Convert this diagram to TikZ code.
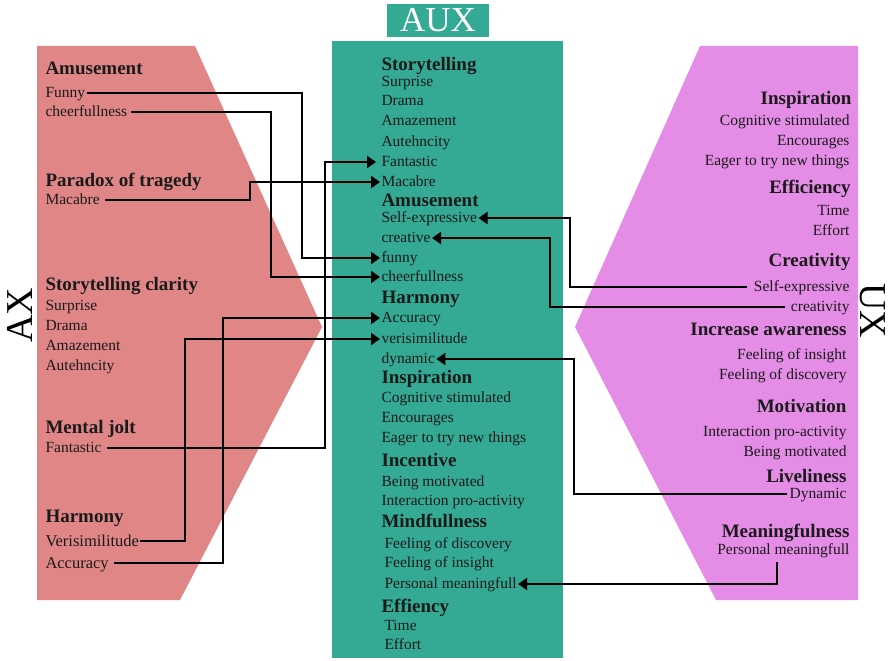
\documentclass[tikz,border=0pt]{standalone}
\usepackage{fontspec}
\setmainfont{Liberation Serif}
\usetikzlibrary{arrows.meta}
\definecolor{axpink}{HTML}{E08686}
\definecolor{auxteal}{HTML}{34A993}
\definecolor{uxviolet}{HTML}{E48CE6}
\definecolor{ink}{HTML}{1A1A1A}
\begin{document}
\begin{tikzpicture}[x=1pt,y=-1pt,
  txt/.style={inner sep=0pt, outer sep=1.5pt, text height=9.5pt, text depth=0pt, text=ink, font=\fontsize{15.5}{18}\selectfont},
  bigtxt/.style={txt, text height=10pt, font=\fontsize{16.5}{19}\selectfont},
  hdg/.style={inner sep=0pt, outer sep=1.5pt, text height=11.5pt, text depth=0pt, text=ink, font=\fontsize{19}{22}\selectfont\bfseries},
  lft/.style={anchor=west},
  rgt/.style={anchor=east},
  conn/.style={line width=2.2pt, draw=black},
  arr/.style={conn, -{Triangle[length=9pt,width=12pt]}},
  biglabel/.style={inner sep=0pt, text=black, font=\fontsize{38}{40}\selectfont}
]
\useasboundingbox (0,0) rectangle (892,661);

% panels
\fill[axpink] (37,46) -- (195,46) -- (322,327) -- (180,600) -- (37,600) -- cycle;
\fill[uxviolet] (858,46) -- (700,46) -- (575,327) -- (716,600) -- (858,600) -- cycle;
\fill[auxteal] (332,41) rectangle (563,658);
\node[fill=auxteal, text=white, minimum width=102pt, minimum height=33pt, inner sep=0pt,
      font=\fontsize{35}{37}\selectfont] (aux) at (438,20.5) {AUX};
\node[biglabel, rotate=90] (ax) at (20,315) {AX};
\node[biglabel, rotate=-90] (ux) at (873,311) {UX};

% left (AX)
\node[hdg,lft] (lAmuH) at (44,69) {Amusement};
\node[txt,lft] (lFunny) at (44,93) {Funny};
\node[txt,lft] (lCheer) at (44,112) {cheerfullness};
\node[hdg,lft] (lParH) at (44,181) {Paradox of tragedy};
\node[txt,lft] (lMac) at (44,200) {Macabre};
\node[hdg,lft] (lStoH) at (44,285) {Storytelling clarity};
\node[txt,lft] (lSur) at (44,306) {Surprise};
\node[txt,lft] (lDra) at (44,326) {Drama};
\node[txt,lft] (lAma) at (44,346) {Amazement};
\node[txt,lft] (lAut) at (44,366) {Autehncity};
\node[hdg,lft] (lMenH) at (44,428) {Mental jolt};
\node[txt,lft] (lFan) at (44,448) {Fantastic};
\node[hdg,lft] (lHarH) at (44,517) {Harmony};
\node[bigtxt,lft] (lVer) at (44,541) {Verisimilitude};
\node[bigtxt,lft] (lAcc) at (44,563) {Accuracy};

% middle (AUX)
\node[hdg,lft] (mStoH) at (380,65) {Storytelling};
\node[txt,lft] (mSur) at (380,82) {Surprise};
\node[txt,lft] (mDra) at (380,101) {Drama};
\node[txt,lft] (mAma) at (380,121) {Amazement};
\node[txt,lft] (mAut) at (380,142) {Autehncity};
\node[txt,lft] (mFan) at (380,162) {Fantastic};
\node[txt,lft] (mMac) at (380,182) {Macabre};
\node[hdg,lft] (mAmuH) at (380,201) {Amusement};
\node[txt,lft] (mSelf) at (380,218) {Self-expressive};
\node[txt,lft] (mCre) at (380,238) {creative};
\node[txt,lft] (mFunny) at (380,258) {funny};
\node[txt,lft] (mCheer) at (380,277) {cheerfullness};
\node[hdg,lft] (mHarH) at (380,298) {Harmony};
\node[txt,lft] (mAcc) at (380,318) {Accuracy};
\node[txt,lft] (mVer) at (380,339) {verisimilitude};
\node[txt,lft] (mDyn) at (380,359) {dynamic};
\node[hdg,lft] (mInsH) at (380,378) {Inspiration};
\node[txt,lft] (mCog) at (380,398) {Cognitive stimulated};
\node[txt,lft] (mEnc) at (380,418) {Encourages};
\node[txt,lft] (mEag) at (380,438) {Eager to try new things};
\node[hdg,lft] (mIncH) at (380,461) {Incentive};
\node[txt,lft] (mBei) at (380,482) {Being motivated};
\node[txt,lft] (mInt) at (380,501) {Interaction pro-activity};
\node[hdg,lft] (mMinH) at (380,522) {Mindfullness};
\node[txt,lft] (mDis) at (383,544) {Feeling of discovery};
\node[txt,lft] (mIns) at (383,563) {Feeling of insight};
\node[txt,lft] (mPers) at (383,584) {Personal meaningfull};
\node[hdg,lft] (mEffH) at (380,607) {Effiency};
\node[txt,lft] (mTime) at (383,626) {Time};
\node[txt,lft] (mEff) at (383,645) {Effort};

% right (UX)
\node[hdg,rgt] (rInsH) at (853,99) {Inspiration};
\node[txt,rgt] (rCog) at (851,121) {Cognitive stimulated};
\node[txt,rgt] (rEnc) at (851,141) {Encourages};
\node[txt,rgt] (rEag) at (851,161) {Eager to try new things};
\node[hdg,rgt] (rEffH) at (852,188) {Efficiency};
\node[txt,rgt] (rTime) at (851,211) {Time};
\node[txt,rgt] (rEff) at (851,231) {Effort};
\node[hdg,rgt] (rCreH) at (852,261) {Creativity};
\node[txt,rgt] (rSelf) at (851,287) {Self-expressive};
\node[txt,rgt] (rCre) at (851,307) {creativity};
\node[hdg,rgt] (rAwaH) at (848,330) {Increase awareness};
\node[txt,rgt] (rIns) at (848,355) {Feeling of insight};
\node[txt,rgt] (rDis) at (848,375) {Feeling of discovery};
\node[hdg,rgt] (rMotH) at (848,407) {Motivation};
\node[txt,rgt] (rInt) at (848,432) {Interaction pro-activity};
\node[txt,rgt] (rBei) at (848,452) {Being motivated};
\node[hdg,rgt] (rLivH) at (848,477) {Liveliness};
\node[txt,rgt] (rDyn) at (848,494) {Dynamic};
\node[hdg,rgt] (rMeaH) at (851,532) {Meaningfulness};
\node[txt,rgt] (rPers) at (851,550) {Personal meaningfull};

% vertical lanes
\coordinate (vFunny) at (302,0);
\coordinate (vCheer) at (271,0);
\coordinate (vMac) at (250,0);
\coordinate (vFan) at (325,0);
\coordinate (vVer) at (185,0);
\coordinate (vAcc) at (223,0);
\coordinate (vSelf) at (570,0);
\coordinate (vCre) at (550,0);
\coordinate (vDyn) at (574,0);
\coordinate (vPers) at (777,0);

% connectors AX -> AUX
\draw[arr] (lFunny.east) -| (vFunny |- mFunny.west) -- (mFunny.west);
\draw[arr, shorten <=2pt] (lCheer.east) -| (vCheer |- mCheer.west) -- (mCheer.west);
\draw[arr, shorten <=4pt] (lMac.east) -| (vMac |- mMac.west) -- (mMac.west);
\draw[arr, shorten <=4pt, shorten >=4pt] (lFan.east) -| (vFan |- mFan.west) -- (mFan.west);
\draw[arr] (lVer.east) -| (vVer |- mVer.west) -- (mVer.west);
\draw[arr, shorten <=4pt] (lAcc.east) -| (vAcc |- mAcc.west) -- (mAcc.west);

% connectors UX -> AUX
\draw[arr, shorten <=5pt] (rSelf.west) -| (vSelf |- mSelf.east) -- (mSelf.east);
\draw[arr, shorten <=4pt] (rCre.west) -| (vCre |- mCre.east) -- (mCre.east);
\draw[arr, shorten <=1pt] (rDyn.west) -| (vDyn |- mDyn.east) -- (mDyn.east);
\draw[arr, shorten <=6pt] (vPers |- rPers.south) |- (mPers.east);
\end{tikzpicture}
\end{document}
